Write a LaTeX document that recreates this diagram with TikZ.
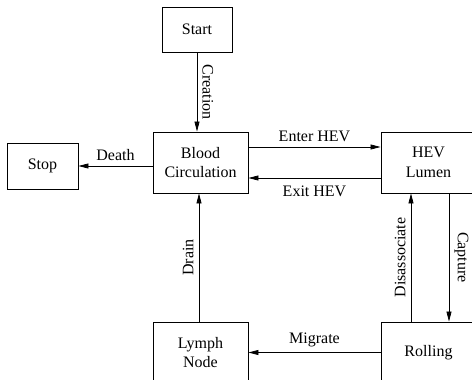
\documentclass[tikz,border=0pt]{standalone}
\usepackage{fontspec}
\setmainfont{Liberation Serif}
\usepackage{tikz}
\usetikzlibrary{arrows.meta,calc}
\definecolor{cizgi}{HTML}{000000}

\begin{document}
\begin{tikzpicture}[x=1pt,y=-1pt,>={Triangle[length=10pt,width=5pt]},line width=0.8pt,
  kutu/.style={draw=cizgi,line width=0.9pt,align=center,inner sep=0pt,font=\fontsize{16}{19.5}\selectfont},
  etiket/.style={font=\fontsize{16}{19.5}\selectfont,inner sep=5pt}]
\useasboundingbox (0,0) rectangle (472,380);
\node[kutu,minimum width=70pt,minimum height=45pt] (start) at (197,29.5) {Start};
\node[kutu,minimum width=71pt,minimum height=46pt] (stop) at (42.5,166) {Stop};
\node[kutu,minimum width=95pt,minimum height=61pt] (blood) at (200.5,162.5) {Blood\\Circulation};
\node[kutu,minimum width=95pt,minimum height=61pt] (hev) at (428.5,162.5) {HEV\\Lumen};
\node[kutu,minimum width=95pt,minimum height=61pt] (lymph) at (200.5,352.5) {Lymph\\Node};
\node[kutu,minimum width=95pt,minimum height=61pt] (rolling) at (428.5,352.5) {Rolling};
\draw[->] (start.south) -- node[etiket,midway,sloped,above] {Creation} (start.south |- blood.north);
\draw[->] (blood.west |- stop.east) -- node[etiket,midway,above] {Death} (stop.east);
\draw[->] ([yshift=15.5pt]blood.east) -- node[etiket,midway,above] {Enter HEV} ([yshift=15.5pt]hev.west);
\draw[->] ([yshift=-15.5pt]hev.west) -- node[etiket,midway,below=3pt] {Exit HEV} ([yshift=-15.5pt]blood.east);
\draw[->] ([xshift=20.5pt]hev.south) -- node[etiket,midway,sloped,above] {Capture} ([xshift=20.5pt]rolling.north);
\draw[->] ([xshift=-17.5pt]rolling.north) -- node[etiket,midway,sloped,above] {Disassociate} ([xshift=-17.5pt]hev.south);
\draw[->] (rolling.west) -- node[etiket,midway,above] {Migrate} (lymph.east);
\draw[->] ([xshift=-1.5pt]lymph.north) -- node[etiket,midway,sloped,above] {Drain} ([xshift=-1.5pt]blood.south);
\end{tikzpicture}
\end{document}
